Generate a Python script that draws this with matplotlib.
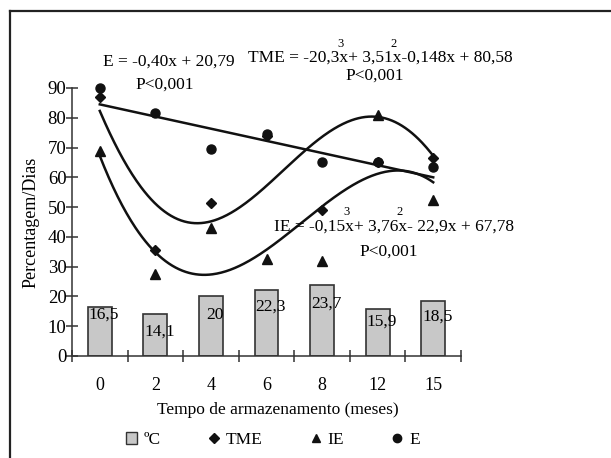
import matplotlib
matplotlib.use('Agg')
import matplotlib.pyplot as plt
import numpy as np
from matplotlib.lines import Line2D
from matplotlib.patches import Patch

# ---------------- data ----------------
months = ['0', '2', '4', '6', '8', '12', '15']
temp_c = [16.5, 14.1, 20, 22.3, 23.7, 15.9, 18.5]
temp_labels = ['16,5', '14,1', '20', '22,3', '23,7', '15,9', '18,5']
tme = [87, 35.5, 51.5, 74, 49, 65, 66.5]
ie = [69, 27.5, 43, 32.5, 32, 81, 52.5]
e_vals = [90, 81.5, 69.5, 74.5, 65, 65, 63.5]

# trend lines (category position, value)
e_trend_x = [0, 6]
e_trend_y = [84.5, 60]
tme_trend_x = [0, 0.3, 0.8, 1.1, 1.4, 1.85, 2.05, 2.5, 2.75, 3.75, 4.55, 5.0, 5.5, 6.0]
tme_trend_y = [82, 70.5, 56, 50, 44.5, 44.5, 45, 50, 54.5, 69.3, 78.8, 80.5, 77, 67]
ie_trend_x = [0, 0.3, 0.75, 1.0, 1.35, 1.6, 2.05, 3.0, 3.85, 4.55, 4.8, 5.15, 5.4, 6.0]
ie_trend_y = [67.5, 53.5, 41, 35, 30, 27.4, 27.4, 35.6, 48.5, 57.5, 59, 62.5, 62, 58.4]

legend_labels = ['ºC', 'TME', 'IE', 'E']

# layout: how far (px) each bar label sits below its bar top
label_drop_px = [8, 18, 19, 17, 18, 13, 16]

# ---------------- figure ----------------
plt.rcParams['font.family'] = ['Liberation Serif', 'DejaVu Serif']
W, H = 611, 458
fig = plt.figure(figsize=(W / 100, H / 100), dpi=100)

def fx(px):
    return px / W

def fy(py):
    return 1 - py / H

ax = fig.add_axes([fx(72), fy(356), fx(461) - fx(72), (356 - 88) / H])
pos = np.arange(len(months))
FS = 12.5

ax.bar(pos, temp_c, width=0.43, color='#c8c8c8', edgecolor='#333333', linewidth=1.2, zorder=2)
for p, v, lab, d in zip(pos, temp_c, temp_labels, label_drop_px):
    ax.annotate(lab, (p, v), xytext=(3, -d * 0.72), textcoords='offset points',
                ha='center', va='center', fontsize=FS, zorder=3)

lw = 1.8
ax.plot(e_trend_x, e_trend_y, color='#111111', lw=lw, zorder=4, clip_on=False)
xx = np.linspace(0, 6, 300)
cf = np.polyfit(tme_trend_x, tme_trend_y, 5)
ax.plot(xx, np.polyval(cf, xx), color='#111111', lw=lw, zorder=4, clip_on=False)
cf2 = np.polyfit(ie_trend_x, ie_trend_y, 4)
ax.plot(xx, np.polyval(cf2, xx), color='#111111', lw=lw, zorder=4, clip_on=False)

ax.plot(pos, tme, 'D', color='#111111', ms=5.5, ls='none', zorder=5, clip_on=False)
ax.plot(pos, ie, '^', color='#111111', ms=7, ls='none', zorder=5, clip_on=False)
ax.plot(pos, e_vals, 'o', color='#111111', ms=6.5, ls='none', zorder=5, clip_on=False)

ax.set_xlim(-0.5, 6.5)
ax.set_ylim(0, 90)
ax.set_yticks(np.arange(0, 91, 10))
ax.set_xticks(np.arange(-0.5, 7, 1))
ax.set_xticklabels([])
ax.set_xticks(pos, minor=True)
ax.set_xticklabels(months, minor=True)
ax.tick_params(axis='x', which='major', direction='inout', length=9, width=1.1, color='#333333')
ax.tick_params(axis='x', which='minor', length=0, pad=15, labelsize=13)
ax.tick_params(axis='y', direction='inout', length=8, width=1.1, color='#333333', pad=0, labelsize=13.5)
for s in ['top', 'right']:
    ax.spines[s].set_visible(False)
for s in ['left', 'bottom']:
    ax.spines[s].set_color('#333333')
    ax.spines[s].set_linewidth(1.1)
ax.set_ylabel('Percentagem/Dias', fontsize=FS + 0.5, labelpad=6)

fig.text(fx(278), fy(410), 'Tempo de armazenamento (meses)', ha='center', va='center', fontsize=FS)

handles = [
    Patch(facecolor='#c8c8c8', edgecolor='#333333', linewidth=1.0),
    Line2D([], [], marker='D', color='#111111', ms=5, ls='none'),
    Line2D([], [], marker='^', color='#111111', ms=6, ls='none'),
    Line2D([], [], marker='o', color='#111111', ms=6, ls='none'),
]
fig.legend(handles, legend_labels, loc='center', bbox_to_anchor=(fx(273), fy(440)), ncol=4,
           frameon=False, fontsize=FS, handlelength=0.65, handletextpad=0.35,
           columnspacing=2.75, handleheight=0.65)

# equations (superscripts placed at the end of the measured prefix)
renderer = fig.canvas.get_renderer()

def equation(cx, cy, full, prefixes, sup_up):
    t = fig.text(fx(cx), fy(cy), full, ha='center', va='center', fontsize=FS)
    bb = t.get_window_extent(renderer)
    for pre, sup in prefixes:
        tmp = fig.text(0, 0, pre, fontsize=FS)
        w = tmp.get_window_extent(renderer).width
        tmp.remove()
        x_px = bb.x0 + w + 1
        fig.text(x_px / fig.bbox.width, fy(cy - sup_up), sup,
                 ha='center', va='center', fontsize=9)

fig.text(fx(169), fy(62), 'E = -0,40x + 20,79', ha='center', va='center', fontsize=FS)
fig.text(fx(165), fy(85), 'P<0,001', ha='center', va='center', fontsize=FS)
equation(380, 58, 'TME = -20,3x+ 3,51x-0,148x + 80,58',
         [('TME = -20,3', '3'), ('TME = -20,3x+ 3,51', '2')], 14)
fig.text(fx(375), fy(76), 'P<0,001', ha='center', va='center', fontsize=FS)
equation(394, 227, 'IE = -0,15x+ 3,76x- 22,9x + 67,78',
         [('IE = -0,15', '3'), ('IE = -0,15x+ 3,76', '2')], 15)
fig.text(fx(389), fy(252), 'P<0,001', ha='center', va='center', fontsize=FS)

# outer frame (top and left edges visible)
fig.add_artist(Line2D([fx(10), fx(10)], [fy(11), -0.05], transform=fig.transFigure, color='#222222', lw=1.6))
fig.add_artist(Line2D([fx(10), 1.05], [fy(11), fy(11)], transform=fig.transFigure, color='#222222', lw=1.6))

fig.savefig('out.png', dpi=100)
